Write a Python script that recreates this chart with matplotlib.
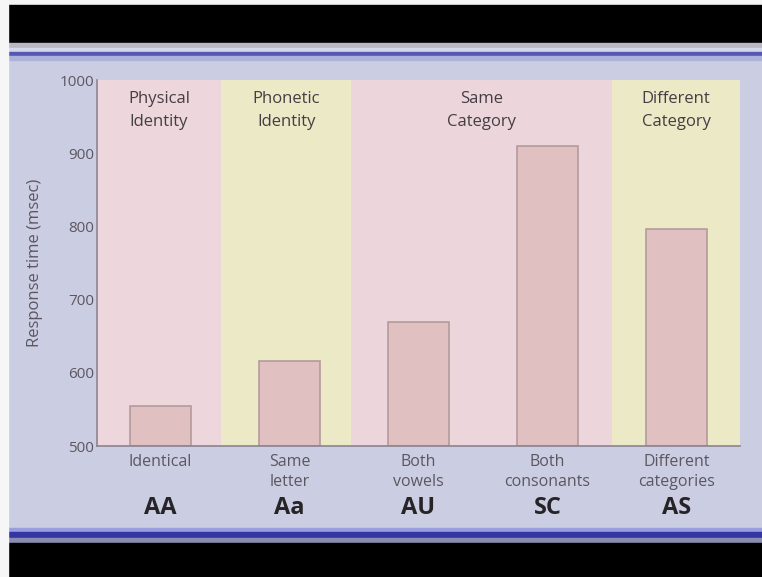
import matplotlib.pyplot as plt
from matplotlib.patches import Rectangle
from matplotlib.transforms import blended_transform_factory

# response times per condition
conditions = ["Identical", "Same\nletter", "Both\nvowels", "Both\nconsonants", "Different\ncategories"]
pairs = ["AA", "Aa", "AU", "SC", "AS"]
rt_msec = [554, 616, 669, 910, 797]

# shaded groups: (left edge, right edge, title, colour)
group_titles = ["Physical\nIdentity", "Phonetic\nIdentity", "Same\nCategory", "Different\nCategory"]
group_edges = [-0.49, 0.47, 1.48, 3.5, 4.49]
group_colors = ["#edd6dc", "#ece9c7", "#ecd6dc", "#ece9c7"]

slide_bg = "#cbcee2"
W, H = 762, 577

plt.rcParams['font.family'] = ['Open Sans', 'DejaVu Sans']
fig = plt.figure(figsize=(W / 100, H / 100), dpi=100)
fig.patch.set_facecolor(slide_bg)


def band(y0, y1, color, x0=0, x1=W):
    fig.patches.append(Rectangle((x0 / W, 1 - y1 / H), (x1 - x0) / W, (y1 - y0) / H,
                                 transform=fig.transFigure, color=color, zorder=-5))


# video frame: black bars and blue rules
band(0, 5, "#f4f4f4")
band(5, 43, "#000000")
band(43, 48, "#b8b8c4")
band(48, 52, "#d4d6ea")
band(52, 56, "#5656b4")
band(56, 60, "#aeb2da")
band(528, 532, "#9a9ede")
band(532, 538, "#3434a2")
band(538, 543, "#8a8cb0")
band(543, H, "#000000")
band(0, H, "#f6f6f6", 0, 8)

ax = fig.add_axes([97 / W, 1 - 446 / H, (740 - 97) / W, (446 - 80) / H])
ax.set_facecolor("none")

for (x0, x1, title, c) in zip(group_edges[:-1], group_edges[1:], group_titles, group_colors):
    ax.axvspan(x0, x1, color=c, zorder=0, lw=0)
    ax.text((x0 + x1) / 2, 0.97, title, transform=blended_transform_factory(ax.transData, ax.transAxes),
            ha="center", va="top", fontsize=12, color="#443e44", linespacing=1.55)

x = range(len(rt_msec))
ax.bar(x, [v - 500 for v in rt_msec], bottom=500, width=0.47, color="#e1c0c1",
       edgecolor="#b49a9c", linewidth=1.2, zorder=2)

ax.set_xlim(group_edges[0], group_edges[-1])
ax.set_ylim(500, 1000)
ax.set_yticks([500, 600, 700, 800, 900, 1000])
ax.tick_params(axis="y", length=0, pad=2, labelsize=11, labelcolor="#5c5660")
ax.set_xticks(list(x))
ax.set_xticklabels(conditions, fontsize=11.5, color="#5c5660", linespacing=1.3)
ax.tick_params(axis="x", length=0, pad=6)
ax.set_ylabel("Response time (msec)", fontsize=12, color="#5c5660", labelpad=12)

for s in ["top", "right"]:
    ax.spines[s].set_visible(False)
for s in ["left", "bottom"]:
    ax.spines[s].set_color("#8a8490")
    ax.spines[s].set_linewidth(1.2)

tr = blended_transform_factory(ax.transData, ax.transAxes)
for xi, p in zip(x, pairs):
    ax.text(xi, -0.17, p, transform=tr, ha="center", va="center", fontsize=17,
            fontweight="bold", color="#262426")

fig.savefig("out.png", dpi=100, facecolor=fig.get_facecolor())
